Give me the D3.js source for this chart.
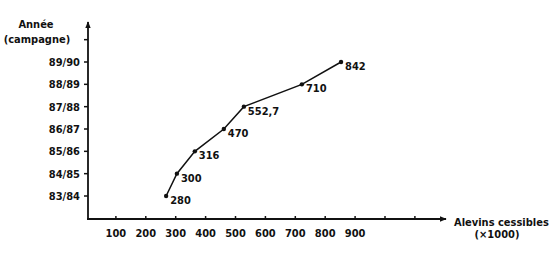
<!DOCTYPE html>
<html>
<head>
<meta charset="utf-8">
<script src="https://cdn.jsdelivr.net/npm/d3@7"></script>
<style>
  body { margin: 0; background: #fff; }
  svg text { font-family: "DejaVu Sans Condensed", "DejaVu Sans", sans-serif; font-weight: bold; fill: #111; }
</style>
</head>
<body>
<svg id="chart" width="550" height="258"></svg>
<script>
// campaign years, bottom to top
var campagnes = ["83/84", "84/85", "85/86", "86/87", "87/88", "88/89", "89/90"];
// alevins cessibles (x1000), as written on the chart
var alevinLabels = ["280", "300", "316", "470", "552,7", "710", "842"];
// where the points sit on the x scale (the original is hand drawn, not exact)
var alevinsTraces = [268, 304, 364, 461, 528, 722, 853];
var xTicks = [100, 200, 300, 400, 500, 600, 700, 800, 900, 1000, 1100];
var xTickLabels = ["100", "200", "300", "400", "500", "600", "700", "800", "900", "", ""];

var svg = d3.select("#chart");

var x = d3.scaleLinear().domain([0, 1000]).range([86, 385]);
var y = d3.scaleLinear().domain([0, 6]).range([196, 62]);

var x0 = 88, y0 = 219;

// axes lines with arrows
svg.append("defs").append("marker")
    .attr("id", "arrow")
    .attr("viewBox", "0 0 10 10")
    .attr("refX", 9).attr("refY", 5)
    .attr("markerWidth", 7).attr("markerHeight", 7)
    .attr("markerUnits", "userSpaceOnUse")
    .attr("orient", "auto")
  .append("path")
    .attr("d", "M0,1 L10,5 L0,9 Z")
    .attr("fill", "#111");

svg.append("line")
    .attr("x1", x0).attr("y1", y0)
    .attr("x2", x0).attr("y2", 22)
    .attr("stroke", "#111").attr("stroke-width", 1.8)
    .attr("marker-end", "url(#arrow)");

svg.append("line")
    .attr("x1", x0 - 1).attr("y1", y0)
    .attr("x2", 446).attr("y2", y0)
    .attr("stroke", "#111").attr("stroke-width", 1.8)
    .attr("marker-end", "url(#arrow)");

// y ticks (one blank tick above the last year)
var yTickIdx = d3.range(campagnes.length + 1);
svg.selectAll(".ytick")
    .data(yTickIdx)
  .enter().append("line")
    .attr("class", "ytick")
    .attr("x1", x0 - 4).attr("x2", x0)
    .attr("y1", function(d) { return y(d); })
    .attr("y2", function(d) { return y(d); })
    .attr("stroke", "#111").attr("stroke-width", 1.5);

svg.selectAll(".ylab")
    .data(campagnes)
  .enter().append("text")
    .attr("class", "ylab")
    .attr("x", 80)
    .attr("y", function(d, i) { return y(i); })
    .attr("dy", "0.35em")
    .attr("text-anchor", "end")
    .style("font-size", "11px")
    .text(function(d) { return d; });

// x ticks
svg.selectAll(".xtick")
    .data(xTicks)
  .enter().append("line")
    .attr("class", "xtick")
    .attr("x1", function(d) { return x(d); })
    .attr("x2", function(d) { return x(d); })
    .attr("y1", y0 - 3).attr("y2", y0 + 1)
    .attr("stroke", "#111").attr("stroke-width", 1.5);

svg.selectAll(".xlab")
    .data(xTicks)
  .enter().append("text")
    .attr("class", "xlab")
    .attr("x", function(d) { return x(d); })
    .attr("y", 233)
    .attr("dy", "0.35em")
    .attr("text-anchor", "middle")
    .style("font-size", "11px")
    .text(function(d, i) { return xTickLabels[i]; });

// axis titles
svg.append("text").attr("x", 36).attr("y", 24).attr("dy", "0.35em")
    .attr("text-anchor", "middle").style("font-size", "11px").text("Année");
svg.append("text").attr("x", 37).attr("y", 39).attr("dy", "0.35em")
    .attr("text-anchor", "middle").style("font-size", "11px").text("(campagne)");
svg.append("text").attr("x", 454).attr("y", 222).attr("dy", "0.35em")
    .style("font-size", "11px").text("Alevins  cessibles");
svg.append("text").attr("x", 497).attr("y", 234).attr("dy", "0.35em")
    .attr("text-anchor", "middle").style("font-size", "11px").text("(×1000)");

// line + points
var line = d3.line()
    .x(function(d) { return x(d); })
    .y(function(d, i) { return y(i); });

svg.append("path")
    .datum(alevinsTraces)
    .attr("d", line)
    .attr("fill", "none")
    .attr("stroke", "#111")
    .attr("stroke-width", 1.5);

svg.selectAll(".pt")
    .data(alevinsTraces)
  .enter().append("circle")
    .attr("class", "pt")
    .attr("cx", function(d) { return x(d); })
    .attr("cy", function(d, i) { return y(i); })
    .attr("r", 2.2)
    .attr("fill", "#111");

svg.selectAll(".vlab")
    .data(alevinsTraces)
  .enter().append("text")
    .attr("class", "vlab")
    .attr("x", function(d) { return x(d) + 4; })
    .attr("y", function(d, i) { return y(i) + 4; })
    .attr("dy", "0.35em")
    .style("font-size", "11px")
    .text(function(d, i) { return alevinLabels[i]; });
</script>
</body>
</html>
